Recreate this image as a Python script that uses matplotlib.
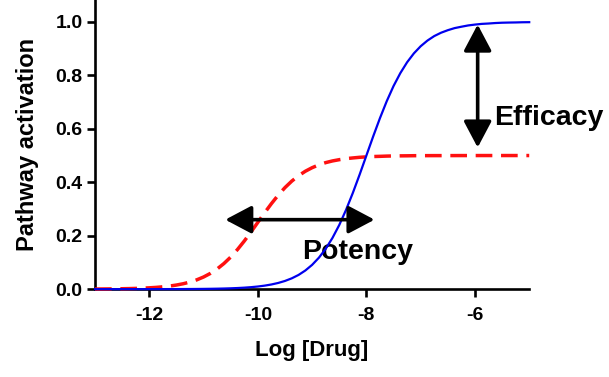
import matplotlib
matplotlib.use("Agg")
import matplotlib.pyplot as plt

plt.rcParams['font.family'] = ['Liberation Sans', 'DejaVu Sans']
plt.rcParams['font.weight'] = 'bold'
plt.rcParams['axes.unicode_minus'] = False

# log concentrations (step 0.125) and responses
log_drug = [-13 + 0.125 * i for i in range(65)]

full_agonist = [0.00001, 0.0000133, 0.0000178, 0.0000237, 0.0000316, 0.0000422, 0.0000562, 0.000075,
                0.0001, 0.000133, 0.000178, 0.000237, 0.000316, 0.000422, 0.000562, 0.00075,
                0.001, 0.00133, 0.00178, 0.00237, 0.00315, 0.0042, 0.00559, 0.00744,
                0.0099, 0.01316, 0.0175, 0.0232, 0.0307, 0.0405, 0.0532, 0.0698,
                0.0909, 0.1177, 0.151, 0.1917, 0.240, 0.2966, 0.360, 0.4285,
                0.500, 0.5715, 0.640, 0.7034, 0.760, 0.8083, 0.849, 0.8823,
                0.909, 0.9302, 0.947, 0.9595, 0.969, 0.9768, 0.982, 0.9868,
                0.990, 0.9926, 0.994, 0.9958, 0.997, 0.9976, 0.998, 0.9987, 0.999]

partial_agonist = [0.0005, 0.00067, 0.00089, 0.00119, 0.00158, 0.0021, 0.0028, 0.0037,
                   0.0050, 0.0066, 0.0088, 0.0116, 0.0154, 0.0203, 0.0266, 0.0349,
                   0.0455, 0.0589, 0.0755, 0.0959, 0.120, 0.1483, 0.180, 0.2143,
                   0.250, 0.2858, 0.320, 0.3517, 0.380, 0.4042, 0.4245, 0.4412,
                   0.4545, 0.4651, 0.4735, 0.4798, 0.4845, 0.4884, 0.491, 0.4934,
                   0.495, 0.4963, 0.497, 0.4979, 0.4985, 0.4988, 0.499, 0.4994, 0.4995,
                   0.4996, 0.4997, 0.4997, 0.4998, 0.4998, 0.4999, 0.4999, 0.4999,
                   0.5, 0.5, 0.5, 0.5, 0.5, 0.5, 0.5, 0.5]

x_ticks = [-12, -10, -8, -6]
y_ticks = [0.0, 0.2, 0.4, 0.6, 0.8, 1.0]

# annotation arrows (data coords)
potency_arrow = ((-10.6, 0.26), (-7.85, 0.26))
efficacy_arrow = ((-5.95, 0.99), (-5.95, 0.53))

fig = plt.figure(figsize=(6.09, 3.77), dpi=100)
ax = fig.add_axes([0.156, 0.233, 0.713, 0.767])

ax.plot(log_drug, full_agonist, color='#0000ee', lw=1.6, clip_on=False, zorder=4)
ax.plot(log_drug, partial_agonist, color='#ff1010', lw=2.5, dashes=(4.8, 2.5),
        clip_on=False, zorder=3)

arrow_kw = dict(arrowstyle='<|-|>,head_length=0.85,head_width=0.45',
                color='black', lw=2.6, mutation_scale=19, shrinkA=0, shrinkB=0)
ax.annotate('', xy=potency_arrow[1], xytext=potency_arrow[0], arrowprops=arrow_kw, zorder=5)
ax.annotate('', xy=efficacy_arrow[1], xytext=efficacy_arrow[0], arrowprops=arrow_kw, zorder=5)

ax.text(-8.17, 0.14, 'Potency', fontsize=20.5, fontweight='bold', ha='center', va='center')
ax.text(-5.64, 0.64, 'Efficacy', fontsize=20.5, fontweight='bold', ha='left', va='center')

ax.set_xlim(-13, -5)
ax.set_ylim(0, 1.082)
ax.set_xticks(x_ticks)
ax.set_xticklabels([str(v) for v in x_ticks])
ax.set_yticks(y_ticks)
ax.set_yticklabels([f'{v:.1f}' for v in y_ticks])

for side in ['top', 'right']:
    ax.spines[side].set_visible(False)
for side in ['left', 'bottom']:
    ax.spines[side].set_linewidth(1.9)
ax.tick_params(axis='both', width=1.9, length=5.5, labelsize=14, direction='out')
ax.tick_params(axis='x', pad=7)

ax.set_xlabel('Log [Drug]', fontsize=16, fontweight='bold', labelpad=12)
ax.set_ylabel('Pathway activation', fontsize=17, fontweight='bold', labelpad=12)

fig.savefig('out.png', dpi=100)
